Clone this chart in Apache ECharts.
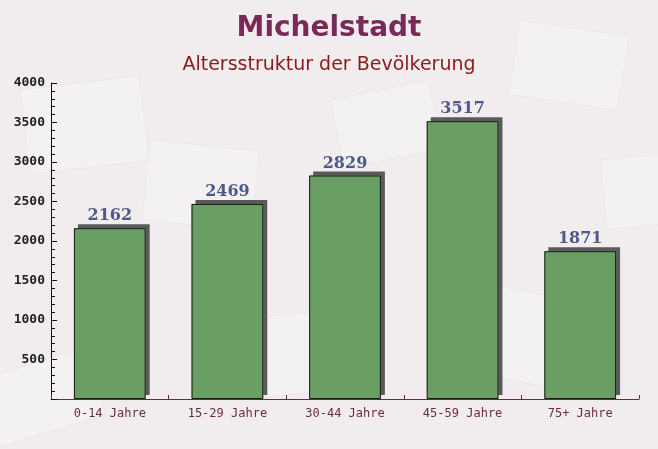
<!DOCTYPE html>
<html>
<head>
<meta charset="utf-8">
<script src="https://cdn.jsdelivr.net/npm/echarts@6/dist/echarts.min.js"></script>
<style>
  html, body { margin: 0; padding: 0; background: #f2eef0; }
  #chart { width: 658px; height: 449px; }
</style>
</head>
<body>
<div id="chart"></div>
<script>
var categories = ['0-14 Jahre', '15-29 Jahre', '30-44 Jahre', '45-59 Jahre', '75+ Jahre']
var values = [2162, 2469, 2829, 3517, 1871]
var titleText = 'Michelstadt'
var subtitleText = 'Altersstruktur der Bevölkerung'

// faint envelope-like shapes in the background
function envelope (x, y, w, h, rot) {
  return {
    type: 'rect',
    x: x,
    y: y,
    rotation: rot,
    shape: { width: w, height: h },
    style: { fill: 'rgba(255,255,255,0.22)', stroke: 'rgba(230,222,226,0.4)' },
    z: -10
  }
}

var myChart = echarts.init(document.getElementById('chart'))
var option = {
  backgroundColor: '#f1edef',
  animation: false,
  graphic: [
    envelope(20, 90, 120, 85, 0.12),
    envelope(150, 140, 110, 80, -0.1),
    envelope(330, 100, 100, 70, 0.2),
    envelope(520, 20, 110, 75, -0.15),
    envelope(230, 320, 120, 80, 0.1),
    envelope(470, 280, 120, 90, -0.2),
    envelope(600, 160, 90, 70, 0.1),
    envelope(-20, 380, 110, 70, 0.3)
  ],
  title: [
    {
      text: titleText,
      left: 'center',
      top: 10,
      textStyle: { fontFamily: 'DejaVu Sans', fontWeight: 'bold', fontSize: 28, color: '#7a2a58' }
    },
    {
      text: subtitleText,
      left: 'center',
      top: 51,
      textStyle: { fontFamily: 'DejaVu Sans', fontWeight: 'normal', fontSize: 19, color: '#8b1a1a' }
    }
  ],
  grid: {
    left: 51,
    right: 19,
    top: 83,
    bottom: 50
  },
  xAxis: {
    type: 'category',
    data: categories,
    axisLine: { lineStyle: { color: '#6b2a3a', width: 1 } },
    axisTick: { show: true, inside: true, length: 4, lineStyle: { color: '#6b2a3a' } },
    axisLabel: {
      fontFamily: 'DejaVu Sans Mono',
      fontSize: 12,
      color: '#6b2a4a',
      margin: 9
    }
  },
  yAxis: {
    type: 'value',
    min: 0,
    max: 4000,
    interval: 500,
    splitLine: { show: false },
    axisLine: { show: true, lineStyle: { color: '#111', width: 1 } },
    axisTick: { show: true, inside: true, length: 6, lineStyle: { color: '#111' } },
    minorTick: { show: true, splitNumber: 5, length: 4, lineStyle: { color: '#111' } },
    axisLabel: {
      fontFamily: 'DejaVu Sans Mono',
      fontWeight: 'bold',
      fontSize: 13,
      color: '#222',
      margin: 6,
      formatter: function (v) { return v === 0 ? '' : v }
    }
  },
  series: [
    {
      // filled bars with the grey offset shadow
      type: 'bar',
      data: values,
      barWidth: '61%',
      itemStyle: {
        color: '#6a9f63',
        shadowColor: '#5a5a5a',
        shadowBlur: 0,
        shadowOffsetX: 4,
        shadowOffsetY: -4
      }
    },
    {
      // outline on top, no shadow
      type: 'bar',
      data: values,
      barWidth: '61%',
      barGap: '-100%',
      itemStyle: {
        color: 'rgba(0,0,0,0)',
        borderColor: '#1a1a1a',
        borderWidth: 1
      },
      label: {
        show: true,
        position: 'top',
        distance: 4,
        fontFamily: 'DejaVu Serif',
        fontWeight: 'bold',
        fontSize: 16,
        color: '#4f5a88'
      }
    }
  ]
}
myChart.setOption(option)
window.addEventListener('resize', function () {
  myChart.resize()
})
</script>
</body>
</html>
